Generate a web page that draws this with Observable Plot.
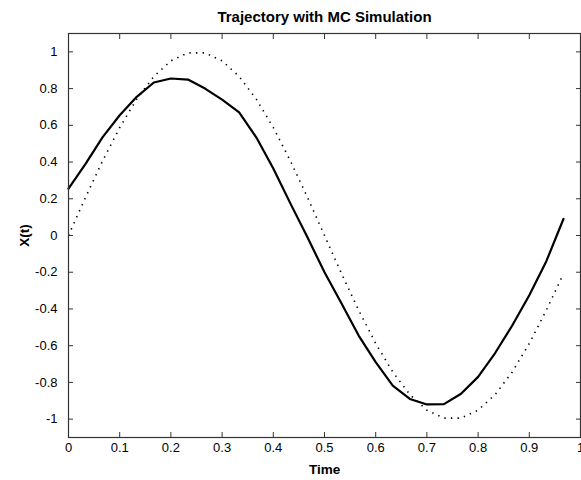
<!DOCTYPE html>
<html>
<head>
<meta charset="utf-8">
<script src="https://cdn.jsdelivr.net/npm/d3@7"></script>
<script src="https://cdn.jsdelivr.net/npm/@observablehq/plot@0.6"></script>
<style>
  html, body { margin: 0; padding: 0; background: #fff; }
</style>
</head>
<body>
<div id="chart"></div>
<script>
const titleText = "Trajectory with MC Simulation";
const xLabel = "Time";
const yLabel = "X(t)";
const xTicks = [0, 0.1, 0.2, 0.3, 0.4, 0.5, 0.6, 0.7, 0.8, 0.9, 1];
const yTicks = [-1, -0.8, -0.6, -0.4, -0.2, 0, 0.2, 0.4, 0.6, 0.8, 1];
const times = [0, 0.0333, 0.0667, 0.1, 0.1333, 0.1667, 0.2, 0.2333, 0.2667, 0.3,
  0.3333, 0.3667, 0.4, 0.4333, 0.4667, 0.5, 0.5333, 0.5667, 0.6, 0.6333,
  0.6667, 0.7, 0.7333, 0.7667, 0.8, 0.8333, 0.8667, 0.9, 0.9333, 0.9667];
const mcTrajectory = [0.255, 0.39, 0.536, 0.655, 0.755, 0.833, 0.855, 0.849, 0.80, 0.74,
  0.67, 0.535, 0.365, 0.175, -0.01, -0.2, -0.37, -0.545, -0.69, -0.818,
  -0.89, -0.92, -0.918, -0.862, -0.77, -0.64, -0.49, -0.325, -0.14, 0.09];
const exactPath = [0, 0.2079, 0.4067, 0.5878, 0.7431, 0.866, 0.9511, 0.9945, 0.9945, 0.9511,
  0.866, 0.7431, 0.5878, 0.4067, 0.2079, 0, -0.2079, -0.4067, -0.5878, -0.7431,
  -0.866, -0.9511, -0.9945, -0.9945, -0.9511, -0.866, -0.7431, -0.5878, -0.4067, -0.2079];

const mcData = times.map((t, i) => ({t, v: mcTrajectory[i]}));
const exactData = times.map((t, i) => ({t, v: exactPath[i]}));
const fmt = d => String(d);
const axisColor = "#333";

const chart = Plot.plot({
  width: 581,
  height: 480,
  marginLeft: 68,
  marginRight: 1,
  marginTop: 33,
  marginBottom: 43,
  style: {fontFamily: "'Liberation Sans', Arial, sans-serif", fontSize: "13px", color: "#000", background: "#fff"},
  x: {domain: [0, 1]},
  y: {domain: [-1.1, 1.1]},
  marks: [
    Plot.line(exactData, {x: "t", y: "v", stroke: "#000", strokeWidth: 1.6, strokeDasharray: "1.4,5.2", strokeLinecap: "butt"}),
    Plot.line(mcData, {x: "t", y: "v", stroke: "#000", strokeWidth: 2.2}),
    Plot.frame({stroke: axisColor, strokeWidth: 1.2}),
    Plot.axisX(xTicks, {anchor: "bottom", tickSize: -5, tickPadding: 10, tickFormat: fmt, label: null, stroke: axisColor, fill: "#000"}),
    Plot.axisX(xTicks, {anchor: "top", tickSize: -5, tickFormat: () => "", label: null, stroke: axisColor}),
    Plot.axisY(yTicks, {anchor: "left", tickSize: -5, tickPadding: 16, tickFormat: fmt, label: null, stroke: axisColor, fill: "#000"}),
    Plot.axisY(yTicks, {anchor: "right", tickSize: -5, tickFormat: () => "", label: null, stroke: axisColor}),
    Plot.text([titleText], {frameAnchor: "top", dy: -16, lineAnchor: "middle", text: d => d, fontWeight: "bold", fontSize: 15, fill: "#000"}),
    Plot.text([xLabel], {frameAnchor: "bottom", dy: 32, lineAnchor: "middle", text: d => d, fontWeight: "bold", fontSize: 13.5, fill: "#000"}),
    Plot.text([yLabel], {frameAnchor: "left", dx: -44, rotate: -90, lineAnchor: "middle", textAnchor: "middle", text: d => d, fontWeight: "bold", fontSize: 13.5, fill: "#000"})
  ]
});
document.getElementById("chart").appendChild(chart);
</script>
</body>
</html>
